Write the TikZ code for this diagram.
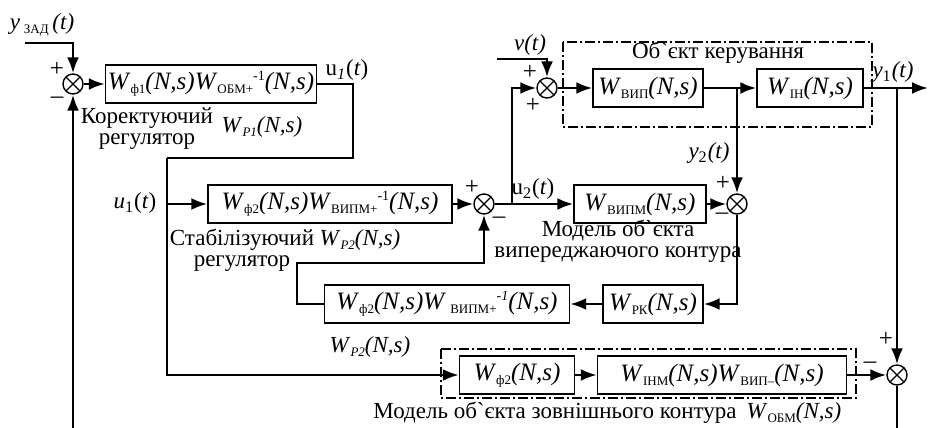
\documentclass[tikz,border=0pt]{standalone}
\usepackage{fontspec}
\setmainfont{Liberation Serif}
\usetikzlibrary{arrows.meta,positioning}
\tikzstyle{blk}=[rectangle,draw,line width=0.7pt,inner sep=1pt,minimum height=19pt,font=\fontsize{12.5}{12}\selectfont]
\tikzstyle{sum}=[circle,draw,line width=0.7pt,minimum size=10pt,inner sep=0pt,
  path picture={\draw[line width=0.7pt] (path picture bounding box.north west) -- (path picture bounding box.south east)
  (path picture bounding box.north east) -- (path picture bounding box.south west);}]
\tikzstyle{grp}=[draw,line width=0.7pt,dash pattern=on 5pt off 1.5pt on 1pt off 1.5pt]
\tikzstyle{arr}=[-{Latex[length=8pt,width=6pt]},line width=1.25pt]
\tikzstyle{ln}=[line width=1.25pt]
\tikzstyle{sgn}=[inner sep=0pt,font=\fontsize{12.5}{12}\selectfont]
\newcommand{\sbs}[1]{\raisebox{-2pt}{\fontsize{6.5}{6}\selectfont #1}}
\newcommand{\sps}[1]{\raisebox{4.5pt}{\fontsize{7}{7}\selectfont #1}}
\newcommand{\Wsub}[1]{\textit{W}\sbs{#1}}
\newcommand{\Ns}{\textit{(N,s)}}
\begin{document}
\begin{tikzpicture}[x=0.5pt,y=-0.5pt,font=\fontsize{11.5}{10.5}\selectfont]
\useasboundingbox (0,0) rectangle (928,428);
% summers
\node (S1) [sum] at (73,84) {};
\node (S2) [sum] at (547,88) {};
\node (S3) [sum] at (484,204) {};
\node (S4) [sum] at (737,204) {};
\node (S5) [sum] at (897,375) {};
% blocks
\node (B1) [blk,minimum width=105.5pt] at (211,84) {\Wsub{ф1}\Ns\Wsub{ОБМ+}\sps{-1}\Ns};
\node (B2) [blk,minimum width=122pt] at (330,204) {\Wsub{ф2}\Ns\Wsub{ВИПМ+}\sps{-1}\Ns};
\node (B3) [blk,minimum width=66pt] at (640,204) {\Wsub{ВИПМ}\Ns};
\node (B4) [blk,minimum width=55pt] at (648,88) {\Wsub{ВИП}\Ns};
\node (B5) [blk,minimum width=53pt] at (810,88) {\Wsub{ІН}\Ns};
\node (B6) [blk,minimum width=50pt] at (653,304) {\Wsub{РК}\Ns};
\node (B7) [blk,minimum width=122.5pt] at (447,304) {\Wsub{ф2}\Ns\textit{W}\,\sbs{ВИПМ+}\sps{\textit{-1}}\Ns};
\node (B8) [blk,minimum width=57.5pt] at (517,375) {\Wsub{ф2}\Ns};
\node (B9) [blk,minimum width=124.5pt] at (722,375) {\Wsub{ІНМ}\Ns\Wsub{ВИП--}\Ns};
% dash-dot frames
\draw [grp] (563,42) rectangle (872,127);
\draw [grp] (441,349) rectangle (856,398);
% free ends and branch points
\coordinate (yin) at (25,43);
\coordinate (vin) at (497,59);
\coordinate (u1a) at (353,84);
\coordinate (u1b) at (167,158);
\coordinate (J1) at (512,204);
\coordinate (J3) at (897,88);
\coordinate (yout) at (928,88);
\coordinate (fb) at (297,263);
\coordinate (fbL) at (73,428);
\coordinate (fbR) at (897,428);
% connectors
\draw [arr] (yin) -| (S1);
\draw [arr] (S1) -- (B1);
\draw [ln] (B1) -- (u1a) |- (u1b);
\draw [arr] (u1b) |- (B8);
\draw [arr] (u1b |- B2) -- (B2);
\draw [arr] (B2) -- (S3);
\draw [arr] (S3) -- (B3);
\draw [arr] (J1) |- (S2);
\draw [arr] (vin) -| (S2);
\draw [arr] (S2) -- (B4);
\draw [arr] (B4) -- (B5);
\draw [arr] (S4 |- B4) -- (S4);
\draw [arr] (B5) -- (yout);
\draw [arr] (J3) -- (S5);
\draw [arr] (B3) -- (S4);
\draw [arr] (S4) |- (B6);
\draw [arr] (B6) -- (B7);
\draw [arr] (B7) -| (fb) -| (S3);
\draw [arr] (B8) -- (B9);
\draw [arr] (B9) -- (S5);
\draw [ln] (S5) -- (fbR);
\draw [arr] (fbL) -- (S1);
% labels
\node (lyz) at (42,25) {\textit{y}\,\sbs{ЗАД}\,\textit{(t)}};
\node (lu1) at (347,70) {u\textsubscript{\textit{1}}(\textit{t})};
\node (lk) [align=center] at (147,129) {Коректуючий\\регулятор};
\node (lwp1) at (262,127) {\Wsub{\textit{P1}}\Ns};
\node (lu1b) at (135,203) {\textit{u}\textsubscript{1}(\textit{t})};
\node (ls) [align=center] at (242,250) {Стабілізуючий\\регулятор};
\node (lwp2) at (360,240) {\Wsub{\textit{P2}}\Ns};
\node (lu2) at (533,189) {u\textsubscript{2}(\textit{t})};
\node (lm1) [align=center] at (618,241) {Модель об\textasciigrave єкта\\випереджаючого контура};
\node (lv) at (530,45) {\textit{v(t)}};
\node (lob) at (718,53) {Об\textasciigrave єкт керування};
\node (ly2) at (709,153) {\textit{y}\textsubscript{2}\textit{(t)}};
\node (ly1) at (893,72) {\textit{y}\textsubscript{1}\textit{(t)}};
\node (lwp2b) at (370,347) {\Wsub{\textit{P2}}\Ns};
\node (lm2) at (555,413) {Модель об\textasciigrave єкта зовнішнього контура};
\node (lwo) at (794,413) {\Wsub{ОБМ}\Ns};
% signs
\node [sgn] at (57,69) {+};
\node [sgn] at (57,100) {--};
\node [sgn] at (472,187) {+};
\node [sgn] at (499,220) {--};
\node [sgn] at (530,72) {+};
\node [sgn] at (533,105) {+};
\node [sgn] at (723,183) {+};
\node [sgn] at (722,216) {--};
\node [sgn] at (886,339) {+};
\node [sgn] at (870,365) {--};
\end{tikzpicture}
\end{document}
